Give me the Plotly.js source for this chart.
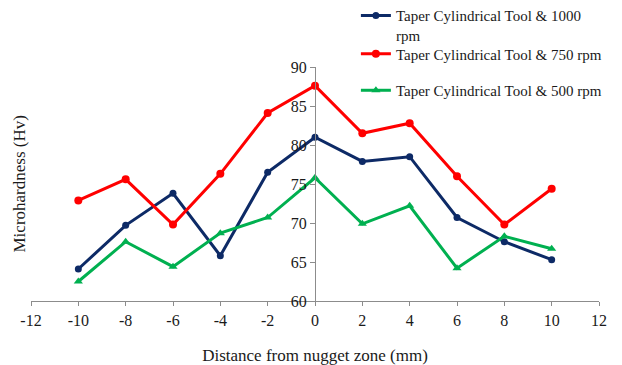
<!DOCTYPE html>
<html>
<head>
<meta charset="utf-8">
<script src="https://cdn.plot.ly/plotly-3.0.1.min.js"></script>
<style>html,body{margin:0;padding:0;background:#fff;}#chart{width:622px;height:365px;}</style>
</head>
<body>
<div id="chart"></div>
<script>
const distance = [-10, -8, -6, -4, -2, 0, 2, 4, 6, 8, 10];
const rpm1000 = [64.1, 69.7, 73.8, 65.8, 76.5, 81.0, 77.9, 78.5, 70.7, 67.6, 65.3];
const rpm750  = [72.9, 75.6, 69.8, 76.3, 84.1, 87.6, 81.5, 82.8, 76.0, 69.8, 74.4];
const rpm500  = [62.5, 67.6, 64.4, 68.7, 70.7, 75.8, 69.9, 72.2, 64.2, 68.3, 66.7];
const xTickVals = [-12, -10, -8, -6, -4, -2, 0, 2, 4, 6, 8, 10, 12];
const xTickText = ["-12", "-10", "-8", "-6", "-4", "-2", "0", "2", "4", "6", "8", "10", "12"];
const seriesNames = ["Taper Cylindrical Tool &amp; 1000<br>rpm", "Taper Cylindrical Tool &amp; 750 rpm", "Taper Cylindrical Tool &amp; 500 rpm"];
const xTitle = "Distance from nugget zone (mm)";
const yTitle = "Microhardness (Hv)";

const font = "Liberation Serif, Times New Roman, serif";
const axisColor = "#8c8c8c";
const textColor = "#1a1a1a";

const traces = [
  {x: distance, y: rpm1000, name: seriesNames[0], legend: "legend", mode: "lines+markers",
   line: {color: "#0d2a66", width: 3}, marker: {symbol: "circle", size: 7, color: "#0d2a66"}},
  {x: distance, y: rpm750, name: seriesNames[1], legend: "legend2", mode: "lines+markers",
   line: {color: "#ff0000", width: 3}, marker: {symbol: "circle", size: 8, color: "#ff0000"}},
  {x: distance, y: rpm500, name: seriesNames[2], legend: "legend3", mode: "lines+markers",
   line: {color: "#00b050", width: 3}, marker: {symbol: "triangle-up", size: 8, color: "#00b050"}}
];

const legFont = {family: font, size: 15, color: textColor};
const legBase = {x: 0.572, xanchor: "left", yanchor: "top", valign: "top", font: legFont,
                 bgcolor: "rgba(0,0,0,0)", borderwidth: 0};

const layout = {
  width: 622, height: 365,
  margin: {l: 31, r: 23, t: 67, b: 64, autoexpand: false},
  paper_bgcolor: "#fff", plot_bgcolor: "#fff",
  font: {family: font, size: 16, color: textColor},
  showlegend: true,
  legend: Object.assign({}, legBase, {y: 1.289}),
  legend2: Object.assign({}, legBase, {y: 1.126}),
  legend3: Object.assign({}, legBase, {y: 0.970}),
  xaxis: {range: [-12, 12], tickmode: "array", tickvals: xTickVals, ticktext: xTickText,
          showline: true, linecolor: axisColor, linewidth: 1,
          ticks: "outside", ticklen: 4, tickcolor: axisColor, showgrid: false, zeroline: false,
          ticklabelstandoff: 1, automargin: false,
          tickfont: {family: font, size: 16, color: textColor},
          title: {text: xTitle, font: {family: font, size: 17, color: textColor}, standoff: 22}},
  yaxis: {range: [60, 90], dtick: 5, anchor: "free", position: 0.5, showline: true, linecolor: axisColor,
          linewidth: 1, ticks: "outside", ticklen: 5, tickcolor: axisColor, showgrid: false, zeroline: false,
          automargin: false,
          tickfont: {family: font, size: 16, color: textColor}},
  annotations: [{text: yTitle, textangle: -90, xref: "paper", yref: "paper", x: -0.022, y: 0.5,
                 xanchor: "center", yanchor: "middle", showarrow: false,
                 font: {family: font, size: 17, color: textColor}}]
};

Plotly.newPlot("chart", traces, layout, {displayModeBar: false, staticPlot: true});
</script>
</body>
</html>
